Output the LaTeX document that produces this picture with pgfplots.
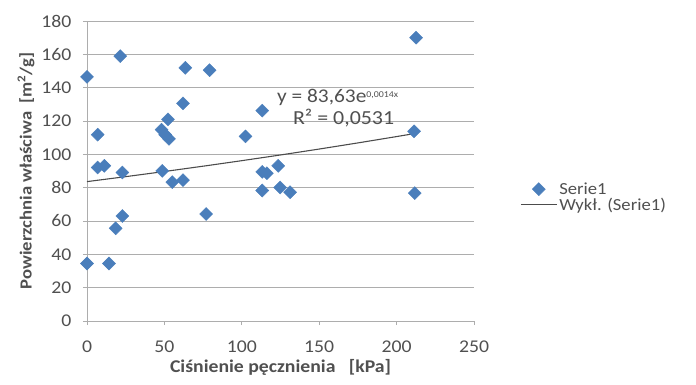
\documentclass[border=0pt]{standalone}
\usepackage{pgfplots}
\pgfplotsset{compat=1.18}
\usepackage{fontspec}
\setmainfont{Carlito}[FakeStretch=1.1]
\definecolor{serieblue}{HTML}{4A7EBB}
\definecolor{gridgray}{HTML}{ADADAD}
\definecolor{txtgray}{HTML}{505050}
\pgfplotsset{
  diamondlegend/.style={legend image code/.code={\draw[##1] plot coordinates {(18bp,0)};}},
  linelegend/.style={legend image code/.code={\draw[##1] (0bp,0bp) -- (36bp,0bp);}},
}
\begin{document}
\begin{tikzpicture}
\useasboundingbox (-87bp,-64bp) rectangle (609bp,321bp);
\begin{axis}[
  at={(0,0)}, anchor=origin,
  scale only axis,
  width=387bp, height=300bp,
  xmin=0, xmax=250, ymin=0, ymax=180,
  xtick={0,50,...,250}, ytick={0,20,...,180},
  axis x line*=bottom, axis y line*=left,
  axis line style={gridgray, line width=0.9pt, -},
  ymajorgrids, grid style={gridgray, line width=0.9pt},
  tick style={gridgray, line width=0.9pt},
  xtick pos=bottom, ytick pos=left,
  tick align=outside, major tick length=4bp,
  /pgf/number format/assume math mode=true,
  ticklabel style={font=\fontsize{18}{20}\selectfont, text=txtgray},
  xticklabel style={yshift=-12bp},
  yticklabel style={xshift=-8bp},
  xlabel={\textbf{Ciśnienie pęcznienia\ \ \ [kPa]}},
  ylabel={\textbf{Powierzchnia właściwa\ \ [m\textsuperscript{2}/g]}},
  label style={text=txtgray},
  xlabel style={font=\fontsize{18}{20}\selectfont, at={(axis description cs:0.5,0)}, anchor=center, yshift=-46bp},
  ylabel style={font=\fontsize{17}{19}\selectfont, at={(axis description cs:0,0.5)}, anchor=center, yshift=61bp},
  legend style={draw=none, fill=none, at={(axis description cs:1.119,0.413)}, anchor=west,
    font=\fontsize{17}{19}\selectfont, text=txtgray, row sep=2bp,
    inner sep=0pt, nodes={inner xsep=2bp, inner ysep=0pt},
    legend cell align=left},
]
\addplot[only marks, mark=square*, mark size=4.6bp, mark options={rotate=45, fill=serieblue, draw=serieblue},
  diamondlegend]
coordinates {
(0,146.5) (0,34.5) (6.9,111.8) (6.9,92.1) (11.2,93.1) (14.2,34.5)
(21.5,158.9) (22.8,89.1) (22.8,63.0) (18.5,55.6)
(48.6,90.1) (48.2,114.8) (50.5,111.8) (53,109.3) (52.3,121.0)
(55.1,83.3) (62,84.5) (63.5,151.9) (62,130.6) (77,64.2) (79.2,150.5)
(102.4,110.8) (113.2,126.2) (113.2,89.5) (116.2,88.7) (113.2,78.3)
(123.5,93.1) (124.8,80.1) (131.2,77.3)
(212.6,170.0) (211.3,113.8) (211.7,76.7)
};
\addlegendentry{Serie1}
\addplot[no marks, color=black!70, line width=1.1pt, linelegend]
coordinates {
(0,83.63) (25,86.61) (50,89.69) (75,92.89) (100,96.20) (125,99.62)
(150,103.17) (175,106.85) (200,110.66) (212,112.53)
};
\addlegendentry{Wykł. (Serie1)}
\node[font=\fontsize{19.5}{21}\selectfont, text=txtgray, anchor=west, inner sep=0pt] at (axis cs:122.7,134) {y = 83,63e\raisebox{0.55ex}{\fontsize{9}{10}\selectfont 0,0014x}};
\node[font=\fontsize{20}{22}\selectfont, text=txtgray, anchor=west, inner sep=0pt] at (axis cs:133,122) {R² = 0,0531};
\end{axis}
\end{tikzpicture}
\end{document}
